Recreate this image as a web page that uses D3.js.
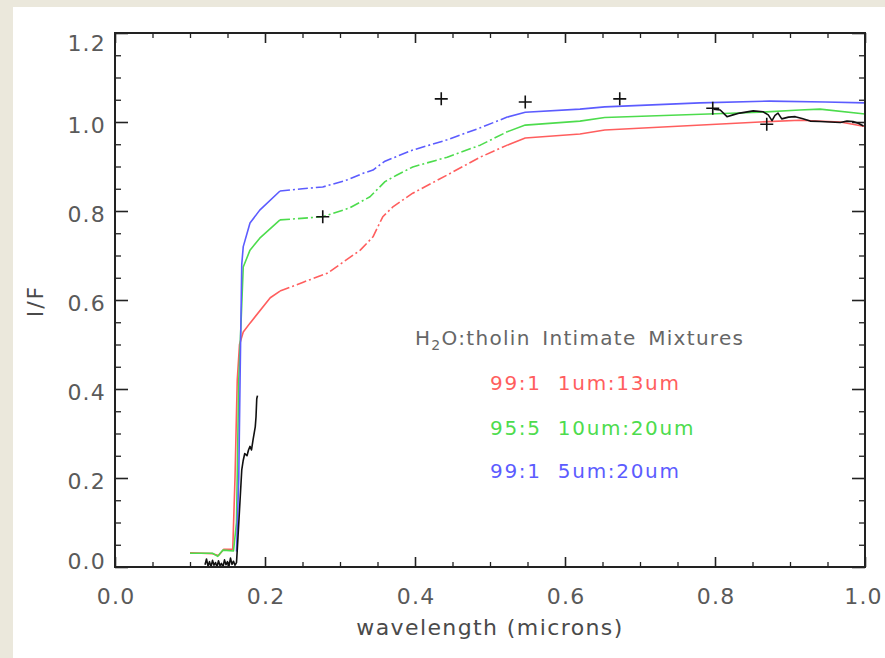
<!DOCTYPE html>
<html>
<head>
<meta charset="utf-8">
<script src="https://cdn.jsdelivr.net/npm/d3@7"></script>
<style>
  html, body { margin: 0; padding: 0; background: #ebe8dc; }
  svg { display: block; }
  text { font-family: "DejaVu Sans", "Liberation Sans", sans-serif; }
</style>
</head>
<body>
<svg id="chart" width="885" height="658"></svg>
<script>
// ---- data: wavelength (microns), I/F ----
const wavelengthTicks = [0.0, 0.2, 0.4, 0.6, 0.8, 1.0];
const reflectanceTicks = [0.0, 0.2, 0.4, 0.6, 0.8, 1.0, 1.2];

// model spectra for H2O:tholin intimate mixtures
const model99_1_1_13 = [
  [0.100,0.032],[0.130,0.030],[0.138,0.026],[0.145,0.040],[0.157,0.040],
  [0.160,0.200],[0.163,0.420],[0.166,0.500],[0.171,0.528],[0.180,0.548],
  [0.207,0.605],[0.220,0.620],[0.251,0.640],[0.283,0.660],[0.327,0.712],
  [0.344,0.742],[0.357,0.787],[0.371,0.810],[0.397,0.840],[0.443,0.881],
  [0.487,0.921],[0.523,0.948],[0.547,0.964],[0.620,0.973],[0.653,0.982],
  [0.860,1.000],[0.913,1.004],[0.967,1.000],[1.000,0.990]
];
const model95_5_10_20 = [
  [0.100,0.031],[0.130,0.031],[0.137,0.024],[0.144,0.038],[0.158,0.036],
  [0.162,0.100],[0.165,0.420],[0.171,0.674],[0.180,0.712],[0.193,0.739],
  [0.220,0.780],[0.277,0.787],[0.313,0.807],[0.340,0.832],[0.360,0.866],
  [0.376,0.881],[0.397,0.899],[0.443,0.921],[0.487,0.948],[0.523,0.978],
  [0.547,0.993],[0.620,1.002],[0.653,1.010],[0.860,1.022],[0.913,1.027],
  [0.940,1.029],[1.000,1.018]
];
const model99_1_5_20 = [
  [0.162,0.035],[0.165,0.200],[0.167,0.450],[0.169,0.680],[0.171,0.720],
  [0.180,0.773],[0.193,0.802],[0.220,0.845],[0.250,0.850],[0.277,0.854],
  [0.310,0.870],[0.331,0.885],[0.344,0.892],[0.360,0.912],[0.397,0.937],
  [0.443,0.960],[0.487,0.987],[0.523,1.011],[0.547,1.022],[0.620,1.029],
  [0.653,1.034],[0.780,1.043],[0.873,1.047],[0.947,1.045],[1.000,1.043]
];

// measured spectrum: ultraviolet and visible/near-IR pieces
const spectrumUV = [
  [0.120,0.005],[0.122,0.018],[0.124,0.002],[0.126,0.012],[0.128,0.000],
  [0.130,0.015],[0.132,0.004],[0.134,0.010],[0.136,0.000],[0.138,0.014],
  [0.140,0.003],[0.142,0.008],[0.144,0.000],[0.146,0.016],[0.148,0.005],
  [0.150,0.012],[0.152,0.002],[0.154,0.020],[0.156,0.006],[0.158,0.013],
  [0.160,0.004],[0.162,0.010],[0.163,0.038],[0.167,0.158],[0.169,0.218],
  [0.171,0.240],[0.173,0.255],[0.176,0.250],[0.178,0.263],[0.180,0.271],
  [0.182,0.263],[0.184,0.285],[0.187,0.315],[0.188,0.337],[0.189,0.378],
  [0.190,0.385]
];
const spectrumIR = [
  [0.798,1.029],[0.807,1.027],[0.816,1.012],[0.824,1.016],[0.833,1.020],
  [0.851,1.025],[0.864,1.023],[0.871,1.016],[0.876,1.003],[0.880,1.015],
  [0.884,1.020],[0.889,1.007],[0.898,1.011],[0.907,1.012],[0.916,1.008],
  [0.927,1.002],[0.940,1.001],[0.967,0.999],[0.976,1.002],[0.984,1.001],
  [0.991,0.997],[0.998,0.991]
];
// broadband photometry points
const photometry = [
  [0.277,0.787],[0.435,1.052],[0.547,1.045],[0.673,1.052],[0.797,1.031],[0.869,0.995]
];

const legendTitle = ["H", "2", "O:tholin Intimate Mixtures"];
const seriesLabels = ["99:1  1um:13um", "95:5  10um:20um", "99:1  5um:20um"];
const seriesColors = ["#ff5e5e", "#4ddc4d", "#5c5cff"];
const seriesData = [model99_1_1_13, model95_5_10_20, model99_1_5_20];

// section of each model drawn dash-dot
const dashFrom = 0.22, dashTo = 0.523;

// ---- layout ----
const svg = d3.select("#chart");
const L = 115, R = 865, T = 33, B = 567;
const x = d3.scaleLinear().domain([0, 1]).range([L, R]);
const y = d3.scaleLinear().domain([0, 1.2]).range([B, T]);

svg.append("rect").attr("x", 13).attr("y", 7).attr("width", 885 - 13).attr("height", 658 - 7)
  .attr("fill", "#ffffff");

const fmt = d3.format(".1f");
const labelFont = 22, labelSpacing = 1.2, labelColor = "#5a5a5a";

function styleAxis(g, major) {
  g.select(".domain").remove();
  g.selectAll(".tick line").attr("stroke", "#222").attr("stroke-width", major ? 1.6 : 1.3);
  g.selectAll(".tick text")
    .attr("font-family", '"DejaVu Sans", sans-serif')
    .attr("font-size", labelFont)
    .attr("letter-spacing", labelSpacing)
    .attr("fill", labelColor);
}

const xMinor = d3.range(0, 21).map(i => i * 0.05).filter(v => Math.abs(v * 5 - Math.round(v * 5)) > 1e-6);
const yMinor = d3.range(0, 25).map(i => i * 0.05).filter(v => Math.abs(v * 5 - Math.round(v * 5)) > 1e-6);

// bottom
svg.append("g").attr("transform", `translate(0,${B})`)
  .call(d3.axisBottom(x).tickValues(xMinor).tickSizeInner(-5).tickSizeOuter(0).tickFormat(""))
  .call(g => styleAxis(g, false));
svg.append("g").attr("transform", `translate(0,${B})`)
  .call(d3.axisBottom(x).tickValues(wavelengthTicks).tickSizeInner(-10).tickSizeOuter(0)
        .tickPadding(21).tickFormat(fmt))
  .call(g => styleAxis(g, true))
  .call(g => g.selectAll(".tick text").attr("dx", d => d === 1 ? -2 : labelSpacing / 2));
// top
svg.append("g").attr("transform", `translate(0,${T})`)
  .call(d3.axisTop(x).tickValues(xMinor).tickSizeInner(-5).tickSizeOuter(0).tickFormat(""))
  .call(g => styleAxis(g, false));
svg.append("g").attr("transform", `translate(0,${T})`)
  .call(d3.axisTop(x).tickValues(wavelengthTicks).tickSizeInner(-10).tickSizeOuter(0).tickFormat(""))
  .call(g => styleAxis(g, true));
// left
svg.append("g").attr("transform", `translate(${L},0)`)
  .call(d3.axisLeft(y).tickValues(yMinor).tickSizeInner(-6).tickSizeOuter(0).tickFormat(""))
  .call(g => styleAxis(g, false));
svg.append("g").attr("transform", `translate(${L},0)`)
  .call(d3.axisLeft(y).tickValues(reflectanceTicks).tickSizeInner(-13).tickSizeOuter(0)
        .tickPadding(9).tickFormat(fmt))
  .call(g => styleAxis(g, true))
  .call(g => g.selectAll(".tick text")
    .attr("dy", "0.36em")
    .attr("y", d => {
      const c = Math.max(T + 9.5, Math.min(B - 6, y(d) + 3));
      return c - y(d);
    }));
// right
svg.append("g").attr("transform", `translate(${R},0)`)
  .call(d3.axisRight(y).tickValues(yMinor).tickSizeInner(-6).tickSizeOuter(0).tickFormat(""))
  .call(g => styleAxis(g, false));
svg.append("g").attr("transform", `translate(${R},0)`)
  .call(d3.axisRight(y).tickValues(reflectanceTicks).tickSizeInner(-13).tickSizeOuter(0).tickFormat(""))
  .call(g => styleAxis(g, true));

// axis titles
svg.append("text")
  .attr("x", x(0.5)).attr("y", 635)
  .attr("text-anchor", "middle")
  .attr("font-size", 22).attr("letter-spacing", 1.4).attr("fill", "#4a4a4a")
  .text("wavelength (microns)");
svg.append("text")
  .attr("transform", `translate(43,${(T + B) / 2 + 1}) rotate(-90)`)
  .attr("text-anchor", "middle")
  .attr("font-size", 22).attr("letter-spacing", 2).attr("fill", "#4a4a4a")
  .text("I/F");

// ---- marks ----
const line = d3.line().x(d => x(d[0])).y(d => y(d[1]));
const plot = svg.append("g");

seriesData.forEach((data, i) => {
  const parts = [
    { pts: data.filter(d => d[0] <= dashFrom + 1e-9), dash: null },
    { pts: data.filter(d => d[0] >= dashFrom - 1e-9 && d[0] <= dashTo + 1e-9), dash: "10,3,2,3" },
    { pts: data.filter(d => d[0] >= dashTo - 1e-9), dash: null }
  ];
  parts.forEach(p => {
    if (p.pts.length < 2) return;
    plot.append("path")
      .attr("d", line(p.pts))
      .attr("fill", "none")
      .attr("stroke", seriesColors[i])
      .attr("stroke-width", 1.6)
      .attr("stroke-linejoin", "round")
      .attr("stroke-dasharray", p.dash);
  });
});

[spectrumUV, spectrumIR].forEach(s => {
  plot.append("path")
    .attr("d", line(s))
    .attr("fill", "none")
    .attr("stroke", "#111")
    .attr("stroke-width", 1.6)
    .attr("stroke-linejoin", "round");
});

plot.selectAll("path.cross").data(photometry).join("path")
  .attr("class", "cross")
  .attr("d", d => {
    const cx = x(d[0]), cy = y(d[1]), s = 6.5;
    return `M${cx - s},${cy}H${cx + s}M${cx},${cy - s}V${cy + s}`;
  })
  .attr("stroke", "#111").attr("stroke-width", 1.6).attr("fill", "none");

// frame
svg.append("rect").attr("x", L).attr("y", T).attr("width", R - L).attr("height", B - T)
  .attr("fill", "none").attr("stroke", "#222").attr("stroke-width", 2);

// ---- legend ----
const title = svg.append("text")
  .attr("x", 415).attr("y", 345)
  .attr("font-size", 20).attr("letter-spacing", 1.3).attr("word-spacing", 4)
  .attr("fill", "#666");
title.append("tspan").text(legendTitle[0]);
title.append("tspan").attr("dy", 5).attr("font-size", 14).text(legendTitle[1]);
title.append("tspan").attr("dy", -5).text(legendTitle[2]);

const legendY = [390, 435, 478];
svg.selectAll("text.entry").data(seriesLabels).join("text")
  .attr("class", "entry")
  .attr("x", 490).attr("y", (d, i) => legendY[i])
  .attr("font-size", 20).attr("letter-spacing", 1.7)
  .style("white-space", "pre")
  .attr("fill", (d, i) => seriesColors[i])
  .text(d => d);
</script>
</body>
</html>
